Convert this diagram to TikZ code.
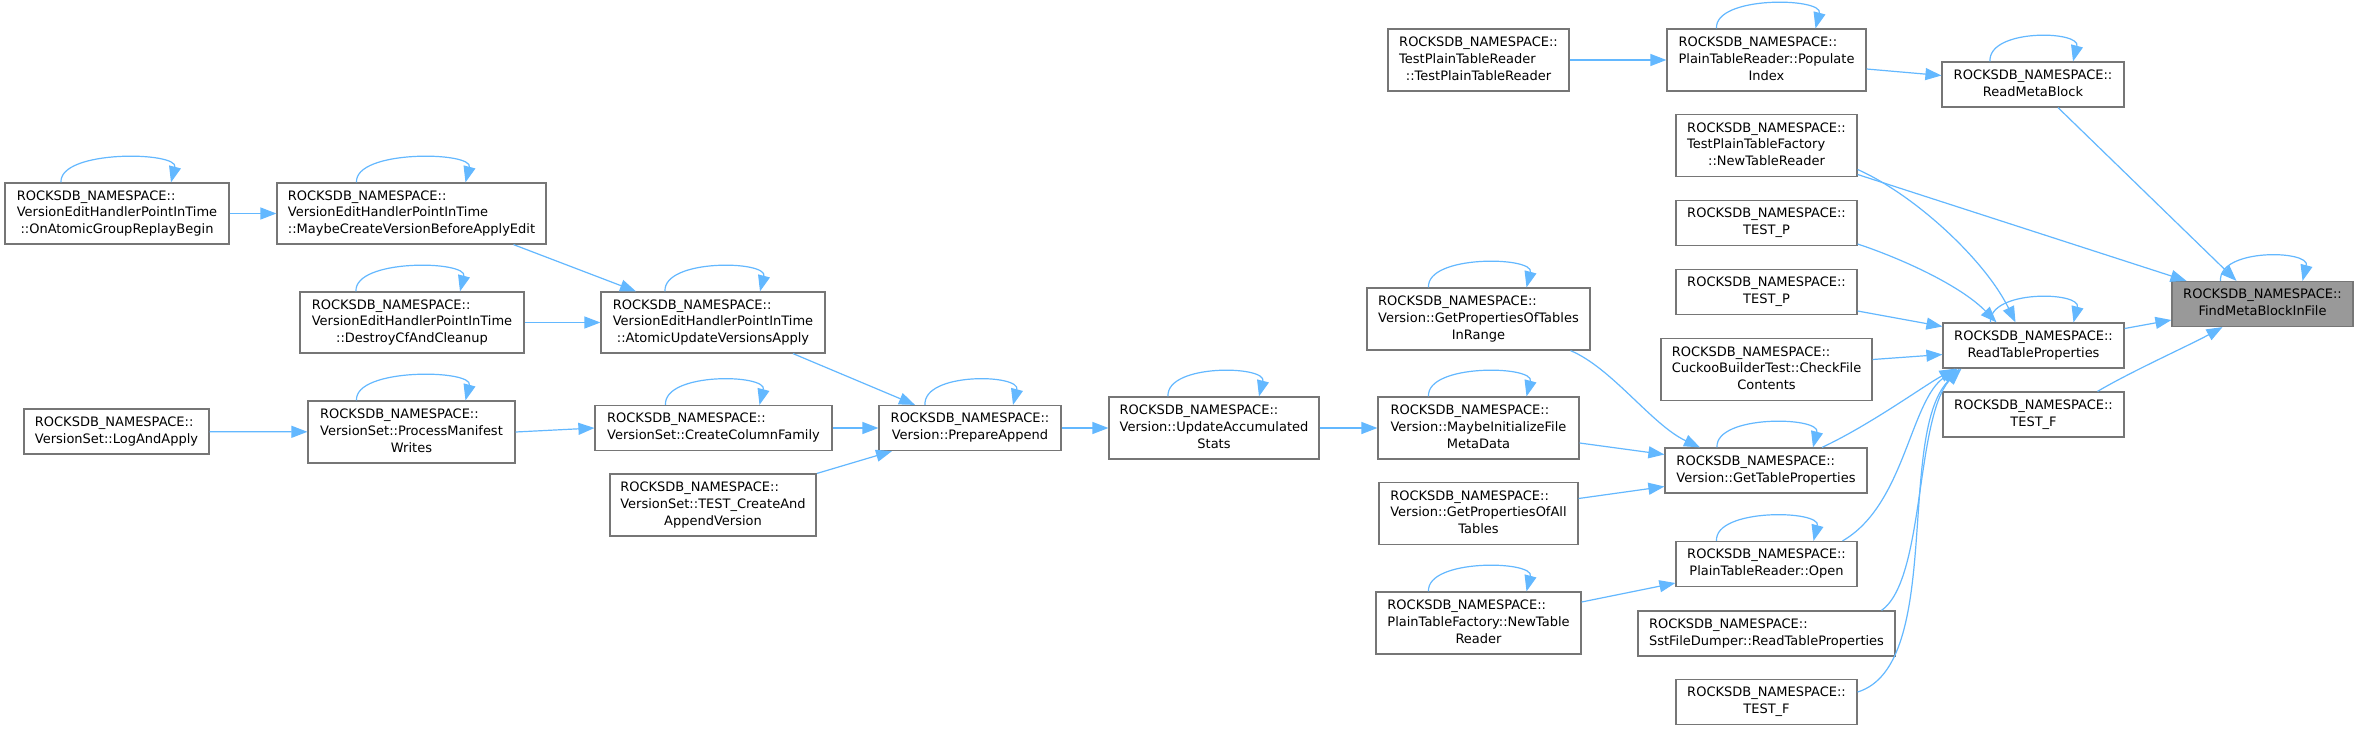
\documentclass[tikz,border=0pt]{standalone}
\usepackage{fontspec}
\setmainfont{DejaVu Sans}
\usetikzlibrary{arrows.meta,calc}
\definecolor{edgeblue}{HTML}{63B8FF}
\definecolor{nodeborder}{HTML}{767676}
\definecolor{hl}{HTML}{999999}
\newcommand\RN{ROCKSDB\_NAMESPACE::}
\newcommand\lbltwo[2]{\begin{tabular}{@{}l@{}}#1\\\multicolumn{1}{@{}c@{}}{#2}\end{tabular}}
\newcommand\lblthree[3]{\begin{tabular}{@{}l@{}}#1\\#2\\\multicolumn{1}{@{}c@{}}{#3}\end{tabular}}
\newcommand\selfloop[3]{\draw[edge] ($(#1.north)+(#2,0)$) .. controls ($(#1.north)+(#2-2,-33)$) and ($(#1.north)+(#3+8,-31)$) .. ($(#1.north)+(#3,0)$);}
\begin{document}
\begin{tikzpicture}[x=1pt,y=-1pt,
  box/.style={draw=nodeborder, line width=1.2pt, fill=white, inner sep=0pt, text=black,
    font=\fontsize{13pt}{16.7pt}\selectfont},
  edge/.style={draw=edgeblue, line width=1.2pt, -{Triangle[length=16pt,width=12pt]}}]
\fill[white] (0,0) rectangle (2359,731);
\useasboundingbox (0,0) rectangle (2359,731);

\node[box,minimum width=224pt,minimum height=61pt] (A) at (117,213.5) {\lblthree{\RN}{VersionEditHandlerPointInTime}{::OnAtomicGroupReplayBegin}};
\node[box,minimum width=269pt,minimum height=61pt] (B) at (411.5,213.5) {\lblthree{\RN}{VersionEditHandlerPointInTime}{::MaybeCreateVersionBeforeApplyEdit}};
\node[box,minimum width=224pt,minimum height=61pt] (C) at (412,322.5) {\lblthree{\RN}{VersionEditHandlerPointInTime}{::DestroyCfAndCleanup}};
\node[box,minimum width=224pt,minimum height=61pt] (D) at (713,322.5) {\lblthree{\RN}{VersionEditHandlerPointInTime}{::AtomicUpdateVersionsApply}};
\node[box,minimum width=185pt,minimum height=45pt] (E) at (116.5,431.5) {\lbltwo{\RN}{VersionSet::LogAndApply}};
\node[box,minimum width=207pt,minimum height=62pt] (F) at (411.5,432) {\lblthree{\RN}{VersionSet::ProcessManifest}{Writes}};
\node[box,minimum width=237pt,minimum height=45pt] (G) at (713.5,428) {\lbltwo{\RN}{VersionSet::CreateColumnFamily}};
\node[box,minimum width=182pt,minimum height=45pt] (H) at (970,428) {\lbltwo{\RN}{Version::PrepareAppend}};
\node[box,minimum width=206pt,minimum height=62pt] (I) at (713,505) {\lblthree{\RN}{VersionSet::TEST\_CreateAnd}{AppendVersion}};
\node[box,minimum width=210pt,minimum height=62pt] (J) at (1214,428) {\lblthree{\RN}{Version::UpdateAccumulated}{Stats}};
\node[box,minimum width=223pt,minimum height=62pt] (K) at (1478.5,319) {\lblthree{\RN}{Version::GetPropertiesOfTables}{InRange}};
\node[box,minimum width=201pt,minimum height=62pt] (L) at (1478.5,428) {\lblthree{\RN}{Version::MaybeInitializeFile}{MetaData}};
\node[box,minimum width=199pt,minimum height=62pt] (M) at (1478.5,513.5) {\lblthree{\RN}{Version::GetPropertiesOfAll}{Tables}};
\node[box,minimum width=205pt,minimum height=62pt] (N) at (1478.5,623) {\lblthree{\RN}{PlainTableFactory::NewTable}{Reader}};
\node[box,minimum width=181pt,minimum height=62pt] (O) at (1478.5,60) {\lblthree{\RN}{TestPlainTableReader}{::TestPlainTableReader}};
\node[box,minimum width=199pt,minimum height=62pt] (P) at (1766.5,60) {\lblthree{\RN}{PlainTableReader::Populate}{Index}};
\node[box,minimum width=181pt,minimum height=62pt] (Q) at (1766.5,145.5) {\lblthree{\RN}{TestPlainTableFactory}{::NewTableReader}};
\node[box,minimum width=181pt,minimum height=45pt] (R) at (1766.5,223) {\lbltwo{\RN}{TEST\_P}};
\node[box,minimum width=181pt,minimum height=45pt] (S) at (1766.5,292) {\lbltwo{\RN}{TEST\_P}};
\node[box,minimum width=211pt,minimum height=62pt] (T) at (1766.5,369.5) {\lblthree{\RN}{CuckooBuilderTest::CheckFile}{Contents}};
\node[box,minimum width=202pt,minimum height=45pt] (U) at (1766,470.5) {\lbltwo{\RN}{Version::GetTableProperties}};
\node[box,minimum width=181pt,minimum height=45pt] (V) at (1766.5,564) {\lbltwo{\RN}{PlainTableReader::Open}};
\node[box,minimum width=257pt,minimum height=45pt] (W) at (1766.5,633.5) {\lbltwo{\RN}{SstFileDumper::ReadTableProperties}};
\node[box,minimum width=181pt,minimum height=45pt] (X) at (1766.5,702) {\lbltwo{\RN}{TEST\_F}};
\node[box,minimum width=182pt,minimum height=45pt] (Y) at (2033,84.5) {\lbltwo{\RN}{ReadMetaBlock}};
\node[box,minimum width=181pt,minimum height=45pt] (Z) at (2033.5,345.5) {\lbltwo{\RN}{ReadTableProperties}};
\node[box,minimum width=181pt,minimum height=45pt] (AA) at (2033.5,414.5) {\lbltwo{\RN}{TEST\_F}};
\node[box,minimum width=181pt,minimum height=45pt,fill=hl] (AB) at (2262.5,304) {\lbltwo{\RN}{FindMetaBlockInFile}};

% edges
\draw[edge] (A) -- (B);
\draw[edge] ($(B.south)+(102,0)$) -- ($(D.north)+(-77,0)$);
\draw[edge] (C) -- (D);
\draw[edge] ($(D.south)+(80,0)$) -- ($(H.north)+(-55,0)$);
\draw[edge] (E) -- (F);
\draw[edge] (F.east) -- (G.west);
\draw[edge] (G) -- (H);
\draw[edge] ($(I.north)+(104,0)$) -- ($(H.south)+(-78,0)$);
\draw[edge] (H) -- (J);
\draw[edge] (J) -- (L);
\draw[edge] ($(K.south)+(92,0)$) .. controls (1612,368) and (1652,425) .. ($(U.north)+(-66,0)$);
\draw[edge] ($(L.east)+(0,15)$) -- ($(U.west)+(0,-16)$);
\draw[edge] ($(M.east)+(0,-15)$) -- ($(U.west)+(0,16)$);
\draw[edge] ($(N.east)+(0,-21)$) -- ($(V.west)+(0,19)$);
\draw[edge] (O) -- (P);
\draw[edge] ($(P.east)+(0,9)$) -- ($(Y.west)+(0,-9)$);
\draw[edge] ($(Y.south)+(25,0)$) -- ($(AB.north)+(-26,0)$);
\draw[edge] ($(Q.east)+(0,29)$) -- ($(AB.north)+(-76,0)$);
\draw[edge] ($(Q.east)+(0,24)$) .. controls (1915,195) and (1985,260) .. ($(Z.north)+(-18,0)$);
\draw[edge] ($(R.east)+(0,21)$) .. controls (1900,258) and (1960,285) .. ($(Z.north)+(-37,0)$);
\draw[edge] ($(S.east)+(0,19)$) -- ($(Z.west)+(0,-19)$);
\draw[edge] ($(T.east)+(0,-10)$) -- ($(Z.west)+(0,9)$);
\draw[edge] ($(U.north)+(56,0)$) .. controls (1870,425) and (1925,385) .. ($(Z.south)+(-78,0)$);
\draw[edge] ($(V.north)+(76,0)$) .. controls (1905,505) and (1910,400) .. ($(Z.south)+(-76,0)$);
\draw[edge] ($(W.north)+(115,0)$) .. controls (1925,580) and (1915,420) .. ($(Z.south)+(-74,0)$);
\draw[edge] ($(X.east)+(0,-10)$) .. controls (1945,665) and (1895,430) .. ($(Z.south)+(-72,0)$);
\draw[edge] ($(Z.east)+(0,-17)$) -- ($(AB.west)+(0,16)$);
\draw[edge] ($(AA.north)+(64,0)$) .. controls (2130,372) and (2190,345) .. ($(AB.south)+(-40,0)$);

% self loops
\selfloop{A}{-56}{54}
\selfloop{B}{-55}{54}
\selfloop{C}{-56}{48}
\selfloop{D}{-48}{47}
\selfloop{F}{-55}{54}
\selfloop{G}{-48}{46}
\selfloop{H}{-45}{43}
\selfloop{J}{-46}{45}
\selfloop{K}{-50}{48}
\selfloop{L}{-50}{48}
\selfloop{N}{-50}{48}
\selfloop{P}{-50}{49}
\selfloop{Y}{-43}{40}
\selfloop{Z}{-43}{40}
\selfloop{U}{-49}{47}
\selfloop{V}{-50}{47}
\selfloop{AB}{-42}{40}
\end{tikzpicture}
\end{document}
